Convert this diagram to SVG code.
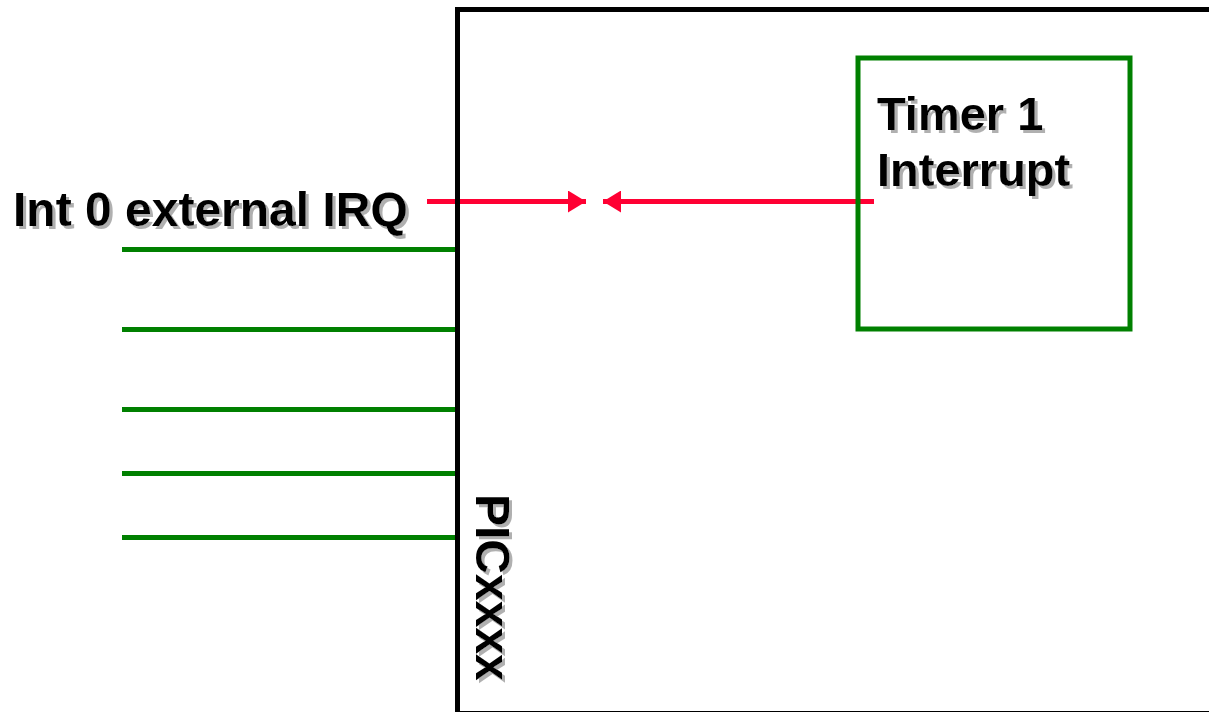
<svg xmlns="http://www.w3.org/2000/svg" width="1209" height="712" viewBox="0 0 1209 712">
<style>
.lbl{font-family:"Liberation Sans",Arial,sans-serif;font-weight:bold;font-size:47px;fill:#000}
.sh{filter:url(#shadow)}
.g{stroke:#008000;stroke-width:5;fill:none}
.r{stroke:#ff0033;stroke-width:5;fill:none}
</style>
<defs>
<filter id="shadow" x="-20%" y="-20%" width="140%" height="140%">
<feOffset in="SourceAlpha" dx="3" dy="3" result="off"/>
<feFlood flood-color="#b0b0b0"/>
<feComposite in2="off" operator="in" result="sh"/>
<feMerge><feMergeNode in="sh"/><feMergeNode in="SourceGraphic"/></feMerge>
</filter>
<marker id="ah" viewBox="0 0 18 22" refX="18" refY="11" markerWidth="18" markerHeight="22" markerUnits="userSpaceOnUse" orient="auto">
<path d="M0,0 L18,11 L0,22 Z" fill="#ff0033"/>
</marker>
</defs>
<rect width="1209" height="712" fill="#fff"/>
<g id="connectors">
<line class="g" x1="122" y1="249.5" x2="457" y2="249.5"/>
<line class="g" x1="122" y1="329.5" x2="457" y2="329.5"/>
<line class="g" x1="122" y1="409.5" x2="457" y2="409.5"/>
<line class="g" x1="122" y1="473.5" x2="457" y2="473.5"/>
<line class="g" x1="122" y1="537.5" x2="457" y2="537.5"/>
<line class="r" x1="427" y1="201.5" x2="586" y2="201.5" marker-end="url(#ah)"/>
<line class="r" x1="874" y1="201.5" x2="603" y2="201.5" marker-end="url(#ah)"/>
</g>
<g id="pic">
<rect x="457.5" y="9.5" width="760" height="704" fill="none" stroke="#000" stroke-width="5"/>
<g class="sh">
<text class="lbl" transform="translate(476,494) rotate(90)" x="0" y="0" style="font-size:48px">PICxxxx</text>
</g>
</g>
<g id="timer">
<rect x="858" y="58" width="272" height="271" fill="none" stroke="#008000" stroke-width="5"/>
<g class="sh">
<text class="lbl" x="877" y="130">Timer 1</text>
<text class="lbl" x="877" y="186">Interrupt</text>
</g>
</g>
<g id="int0">
<g class="sh">
<text class="lbl" x="13" y="226" style="font-size:48px">Int 0 external IRQ</text>
</g>
</g>
</svg>
